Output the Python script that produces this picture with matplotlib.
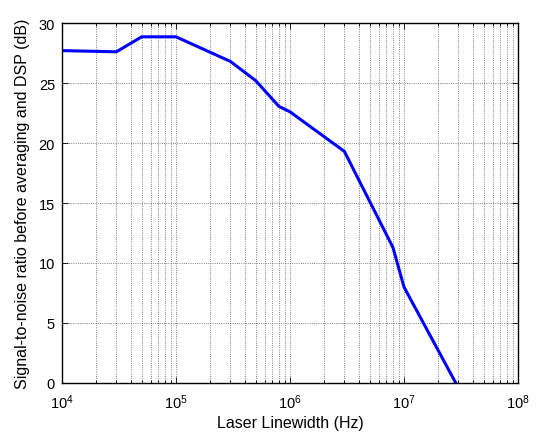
import matplotlib
matplotlib.use("Agg")
import matplotlib.pyplot as plt
from matplotlib.ticker import LogLocator, NullFormatter

plt.rcParams["font.family"] = ["Liberation Sans", "DejaVu Sans"]
plt.rcParams["mathtext.fontset"] = "custom"
plt.rcParams["mathtext.rm"] = "Liberation Sans"

# laser linewidth (Hz) and SNR (dB)
linewidth_hz = [1e4, 3e4, 5e4, 1e5, 3e5, 5e5, 8e5, 1e6, 3e6, 8e6, 1e7, 3e7]
snr_db = [27.7, 27.6, 28.85, 28.85, 26.8, 25.2, 23.05, 22.6, 19.3, 11.3, 8.0, -0.4]

fig = plt.figure(figsize=(5.4, 4.39), dpi=100)
ax = fig.add_axes([0.1148, 0.1253, 0.8444, 0.82])

ax.semilogx(linewidth_hz, snr_db, color="#0000ff", linewidth=2.2)

ax.set_xlim(1e4, 1e8)
ax.set_ylim(0, 30)
ax.set_yticks([0, 5, 10, 15, 20, 25, 30])
ax.xaxis.set_major_locator(LogLocator(base=10, numticks=10))
ax.xaxis.set_minor_locator(LogLocator(base=10, subs=range(2, 10), numticks=20))
ax.xaxis.set_minor_formatter(NullFormatter())

ax.grid(True, which="both", axis="x", color="0.35", linestyle=":", linewidth=0.6)
ax.grid(True, which="major", axis="y", color="0.35", linestyle=":", linewidth=0.6)

ax.tick_params(which="both", direction="in", top=True, right=True, labelsize=10.5)
ax.tick_params(which="major", length=4, width=0.6)
ax.tick_params(which="minor", length=2, width=0.6)
ax.tick_params(axis="x", which="major", pad=7)
ax.tick_params(axis="y", which="major", pad=5)
for s in ax.spines.values():
    s.set_linewidth(1.0)

ax.set_xlabel("Laser Linewidth (Hz)", fontsize=11.5, labelpad=3)
ax.set_ylabel("Signal-to-noise ratio before averaging and DSP (dB)", fontsize=11.5, labelpad=6)

fig.savefig("out.png", dpi=100)
